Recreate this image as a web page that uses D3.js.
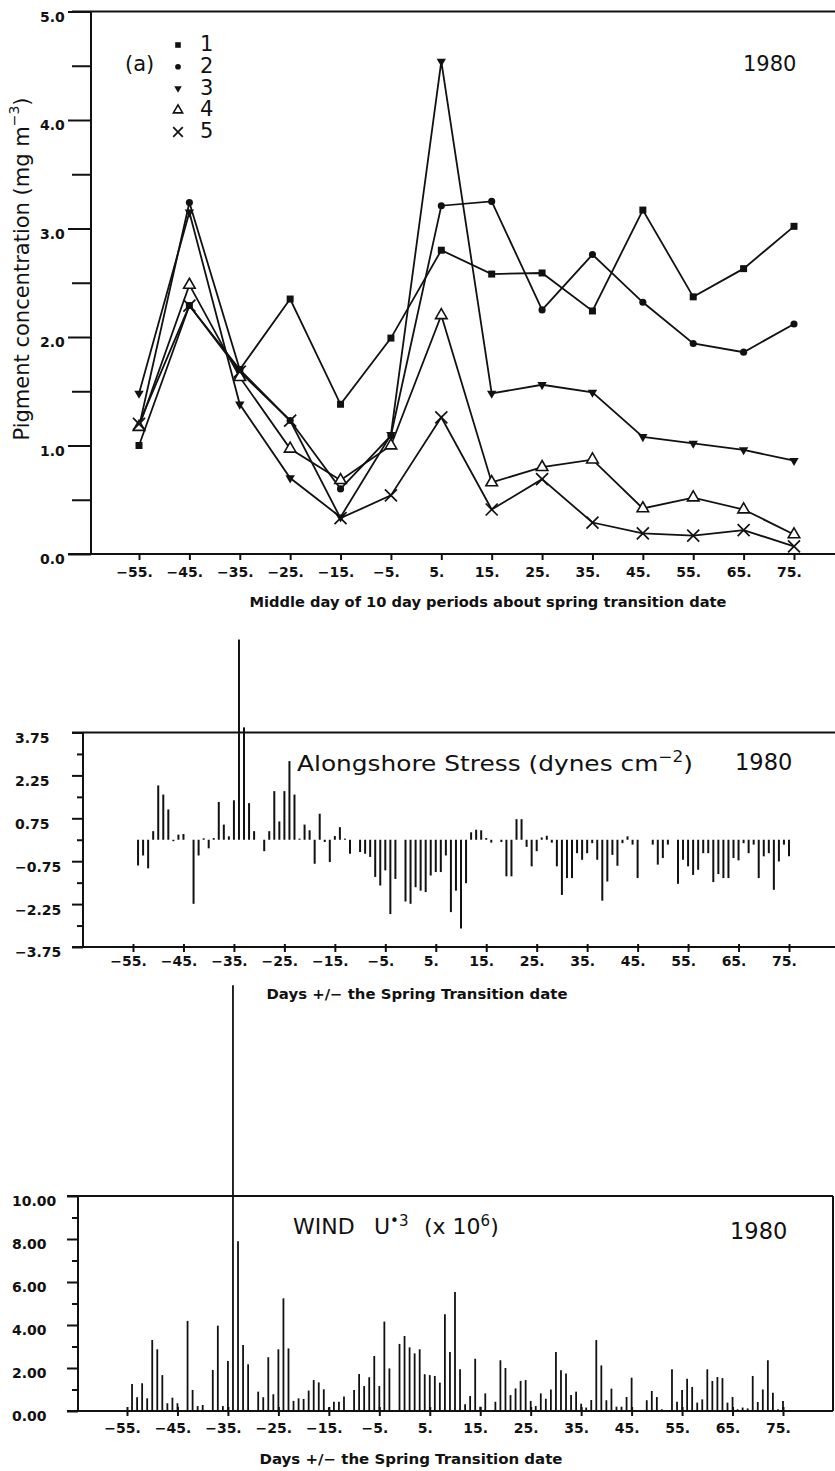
<!DOCTYPE html>
<html>
<head>
<meta charset="utf-8">
<script src="https://cdn.jsdelivr.net/npm/d3@7"></script>
<style>
  body { margin: 0; background: #fff; }
  svg { display: block; }
  text { fill: #111; }
</style>
</head>
<body>
<svg id="fig" width="835" height="1471"></svg>
<script>
// ---------- panel (a): pigment concentration, 10-day period means ----------
const periodDays = [-55, -45, -35, -25, -15, -5, 5, 15, 25, 35, 45, 55, 65, 75];
const station1 = [1.00, 2.29, 1.70, 2.35, 1.38, 1.99, 2.80, 2.58, 2.59, 2.24, 3.17, 2.37, 2.63, 3.02];
const station2 = [1.17, 3.24, 1.70, 1.23, 0.60, 1.09, 3.21, 3.25, 2.25, 2.76, 2.32, 1.94, 1.86, 2.12];
const station3 = [1.48, 3.15, 1.38, 0.70, 0.34, 1.10, 4.54, 1.48, 1.56, 1.49, 1.08, 1.02, 0.96, 0.86];
const station4 = [1.17, 2.48, 1.63, 0.97, 0.68, 1.00, 2.20, 0.66, 0.80, 0.87, 0.42, 0.52, 0.41, 0.18];
const station5 = [1.20, 2.29, 1.68, 1.23, 0.33, 0.54, 1.26, 0.41, 0.69, 0.29, 0.19, 0.17, 0.22, 0.07];
const stationNames = ["1", "2", "3", "4", "5"];
const pigmentTicks = [0, 1, 2, 3, 4, 5];
const pigmentMinor = [0.5, 1.5, 2.5, 3.5, 4.5];

// ---------- daily series, days -54 .. 75 ----------
const dailyDays = d3.range(-54, 76);
const stress = [
  -0.90, -0.55, -1.00, 0.30, 1.90, 1.58, 1.06, -0.05, 0.18, 0.20,
  0, -2.24, -0.55, 0.05, -0.30, 0.06, 1.32, 0.53, 0.12, 1.38,
  7.00, 3.93, 1.28, 0.30, 0, -0.40, 0.30, 1.70, 0.64, 1.70,
  2.75, 1.58, 0.04, 0.53, 0.33, -0.84, 0.91, -0.08, -0.78, 0.13,
  0.44, 0.04, -0.49, 0, -0.43, -0.49, -0.60, -1.30, -1.60, -1.07,
  -2.60, -1.37, 0, -2.16, -2.24, -1.66, -1.78, -1.83, -1.25, -1.13,
  -1.13, -0.55, -2.53, -1.78, -3.10, -1.52, 0.26, 0.35, 0.33, 0.06,
  -0.10, 0, -0.08, -1.28, -1.28, 0.72, 0.72, -0.25, -0.93, -0.40,
  0.08, 0.14, -0.10, -0.93, -1.93, -1.34, -1.34, -0.47, -0.70, -0.47,
  -0.12, -0.70, -2.13, -1.46, -0.53, -0.91, -0.12, 0.12, -0.17, -1.34,
  0, 0, -0.17, -0.87, -0.64, -0.17, 0, -1.54, -0.70, -0.93,
  -1.23, -1.05, -0.47, -0.47, -1.48, -1.20, -1.34, -1.34, -0.64, -0.72,
  -0.12, -0.47, -0.17, -1.34, -0.58, -0.47, -1.75, -0.76, -0.17, -0.58
];
const windCubed = [
  1.26, 0.64, 1.29, 0.59, 3.30, 2.87, 1.67, 0.36, 0.62, 0.36,
  0, 4.19, 0.98, 0.23, 0.28, 0, 1.91, 3.97, 0.23, 2.33,
  19.8, 7.90, 3.07, 2.17, 0, 0.90, 0.64, 2.50, 0.78, 2.87,
  5.24, 2.91, 0.47, 0.59, 0.56, 0.95, 1.44, 1.33, 1.01, 0.17,
  0.43, 0.43, 0.67, 0, 0.98, 1.72, 1.16, 1.57, 2.56, 1.16,
  4.16, 1.98, 0, 3.12, 3.49, 2.96, 2.68, 2.87, 1.71, 1.67,
  1.63, 1.32, 4.50, 2.74, 5.53, 1.94, 0.31, 0.70, 2.43, 0.20,
  0.82, 0, 0.43, 2.36, 2.00, 0.74, 1.05, 1.40, 1.44, 0.47,
  0.23, 0.82, 0.57, 1.00, 2.74, 1.89, 1.75, 0.74, 0.90, 0.34,
  0.16, 0.51, 3.30, 2.12, 0.50, 1.04, 0.20, 0.20, 0.65, 1.55,
  0, 0, 0.50, 0.93, 0.65, 0.08, 0, 1.94, 0.43, 0.98,
  1.50, 1.12, 0.39, 0.54, 1.94, 1.40, 1.58, 1.53, 0.39, 0.65,
  0.08, 0.16, 0.12, 1.63, 0.42, 1.00, 2.36, 0.85, 0.08, 0.47
];
const dayTicks = [-55, -45, -35, -25, -15, -5, 5, 15, 25, 35, 45, 55, 65, 75];
const stressTicks = [-3.75, -3.0, -2.25, -1.5, -0.75, 0, 0.75, 1.5, 2.25, 3.0, 3.75];
const stressLabelled = [-3.75, -2.25, -0.75, 0.75, 2.25, 3.75];
const windTicks = [0, 1, 2, 3, 4, 5, 6, 7, 8, 9, 10];
const windLabelled = [0, 2, 4, 6, 8, 10];

const INK = "#111";
const TICK_FONT = "'DejaVu Sans', sans-serif";
const svg = d3.select("#fig");

const dayLabel = d => (d < 0 ? "\u2212" : "") + Math.abs(d) + ".";
const signedFixed = n => v => (v < 0 ? "\u2212" : "") + Math.abs(v).toFixed(n);

function hline(x1, x2, y, w = 2) {
  svg.append("line").attr("x1", x1).attr("x2", x2).attr("y1", y).attr("y2", y)
    .attr("stroke", INK).attr("stroke-width", w);
}
function vline(x, y1, y2, w = 2) {
  svg.append("line").attr("x1", x).attr("x2", x).attr("y1", y1).attr("y2", y2)
    .attr("stroke", INK).attr("stroke-width", w);
}

function styleAxis(g) {
  g.select(".domain").remove();
  g.attr("font-family", TICK_FONT).attr("font-size", 14).attr("font-weight", "bold");
  g.selectAll("line").attr("stroke", INK).attr("stroke-width", 2);
  g.selectAll("text").attr("fill", INK);
}

function yAxis(x0, scale, all, labelled, majorLen, minorLen, labelLeft, fmt) {
  const minor = all.filter(v => !labelled.includes(v));
  const gMin = svg.append("g").attr("transform", `translate(${x0},0)`)
    .call(d3.axisLeft(scale).tickValues(minor).tickSize(minorLen).tickFormat(""));
  styleAxis(gMin);
  const gMaj = svg.append("g").attr("transform", `translate(${x0},0)`)
    .call(d3.axisLeft(scale).tickValues(labelled).tickSize(majorLen).tickFormat(fmt));
  styleAxis(gMaj);
  gMaj.selectAll("text").attr("text-anchor", "start")
    .attr("x", labelLeft - x0).attr("y", 5).attr("dy", "0.35em");
}

function xAxis(y0, scale, labelY, tickUp, tickDown) {
  const g = svg.append("g").attr("transform", `translate(0,${y0})`)
    .call(d3.axisBottom(scale).tickValues(dayTicks).tickSize(tickDown).tickFormat(dayLabel));
  styleAxis(g);
  g.selectAll(".tick line").attr("y1", -tickUp).attr("y2", tickDown);
  g.selectAll("text").attr("y", labelY).attr("dy", "0.35em").attr("x", -5);
}

function title(x, y, str, size, len, weight = "bold") {
  svg.append("text").attr("x", x).attr("y", y).attr("text-anchor", "middle")
    .attr("dominant-baseline", "middle")
    .attr("font-family", TICK_FONT).attr("font-weight", weight).attr("font-size", size)
    .attr("textLength", len).attr("lengthAdjust", "spacingAndGlyphs")
    .text(str);
}

// ================= panel (a) =================
const xP = d3.scaleLinear().domain([-55, 75]).range([139, 794]);
const yP = d3.scaleLinear().domain([0, 5]).range([554, 11.5]);

vline(91, yP(5), yP(0));
hline(72, 835, yP(5));
hline(68, 835, yP(0));
yAxis(91, yP, pigmentTicks.concat(pigmentMinor), pigmentTicks, 23, 19, 40, d3.format(".1f"));
xAxis(yP(0), xP, 18, 0, 6);
title(488, 603, "Middle day of 10 day periods about spring transition date", 13.5, 477);

// y title with superscript
const yt = svg.append("text")
  .attr("transform", "translate(23,269) rotate(-90)")
  .attr("text-anchor", "middle").attr("dominant-baseline", "middle")
  .attr("font-family", TICK_FONT).attr("font-size", 21);
yt.append("tspan").text("Pigment concentration (mg m");
yt.append("tspan").attr("dy", -8).attr("font-size", 14).text("\u22123");
yt.append("tspan").attr("dy", 8).text(")");

const series = [
  { vals: station1, kind: "square" },
  { vals: station2, kind: "circle" },
  { vals: station3, kind: "down" },
  { vals: station4, kind: "up" },
  { vals: station5, kind: "cross" }
];

function marker(g, kind, cx, cy, k) {
  const t = `translate(${cx},${cy})`;
  if (kind === "square") {
    g.append("path").attr("transform", t).attr("d", d3.symbol(d3.symbolSquare, 49 * k * k)())
      .attr("fill", INK);
  } else if (kind === "circle") {
    g.append("path").attr("transform", t).attr("d", d3.symbol(d3.symbolCircle, 40 * k * k)())
      .attr("fill", INK);
  } else if (kind === "down") {
    g.append("path").attr("transform", t + " rotate(180)")
      .attr("d", d3.symbol(d3.symbolTriangle, 38 * k * k)()).attr("fill", INK);
  } else if (kind === "up") {
    g.append("path").attr("transform", t).attr("d", d3.symbol(d3.symbolTriangle, 58 * k * k)())
      .attr("fill", "#fff").attr("stroke", INK).attr("stroke-width", 1.6);
  } else {
    const r = 6 * k;
    g.append("path").attr("transform", t)
      .attr("d", `M${-r},${-r}L${r},${r}M${-r},${r}L${r},${-r}`)
      .attr("stroke", INK).attr("stroke-width", 1.7).attr("fill", "none");
  }
}

const line = d3.line().x((d, i) => xP(periodDays[i])).y(d => yP(d));
const gLines = svg.append("g");
series.forEach(s => {
  gLines.append("path").datum(s.vals).attr("d", line)
    .attr("fill", "none").attr("stroke", INK).attr("stroke-width", 1.8);
});
const gMarks = svg.append("g");
series.forEach(s => s.vals.forEach((v, i) => marker(gMarks, s.kind, xP(periodDays[i]), yP(v), 1)));

// legend
const legY = d3.scalePoint().domain(stationNames).range([45, 132]);
const gLeg = svg.append("g");
series.forEach((s, i) => {
  marker(gLeg, s.kind, 178, legY(stationNames[i]), 0.8);
  gLeg.append("text").attr("x", 200).attr("y", legY(stationNames[i]))
    .attr("dominant-baseline", "middle").attr("font-family", TICK_FONT).attr("font-size", 21)
    .text(stationNames[i]);
});
svg.append("text").attr("x", 125).attr("y", 65).attr("dominant-baseline", "middle")
  .attr("font-family", TICK_FONT).attr("font-size", 21).text("(a)");
svg.append("text").attr("x", 743).attr("y", 65).attr("dominant-baseline", "middle")
  .attr("font-family", TICK_FONT).attr("font-size", 21).text("1980");

// ================= alongshore stress =================
const xS = d3.scaleLinear().domain([-55, 75]).range([133, 789]);
const yS = d3.scaleLinear().domain([-3.75, 3.75]).range([947, 732.5]);

vline(83, yS(3.75), yS(-3.75));
hline(72, 835, yS(3.75));
hline(72, 835, yS(-3.75));
yAxis(83, yS, stressTicks, stressLabelled, 11, 6, 15, signedFixed(2));
xAxis(yS(-3.75), xS, 14, 3, 5);
title(417, 995, "Days +/\u2212 the Spring Transition date", 14, 301);

svg.append("g").selectAll("line")
  .data(dailyDays.map((d, i) => ({ d, v: stress[i] })).filter(p => p.v !== 0))
  .join("line")
  .attr("x1", p => xS(p.d)).attr("x2", p => xS(p.d))
  .attr("y1", yS(0)).attr("y2", p => yS(p.v))
  .attr("stroke", INK).attr("stroke-width", 2);

const st = svg.append("text").attr("x", 297).attr("y", 765).attr("dominant-baseline", "middle")
  .attr("font-family", TICK_FONT).attr("font-size", 22)
  .attr("textLength", 396).attr("lengthAdjust", "spacingAndGlyphs");
st.append("tspan").text("Alongshore Stress (dynes cm");
st.append("tspan").attr("dy", -8).attr("font-size", 15).text("\u22122");
st.append("tspan").attr("dy", 8).text(")");
svg.append("text").attr("x", 735).attr("y", 763).attr("dominant-baseline", "middle")
  .attr("font-family", TICK_FONT).attr("font-size", 22.5).text("1980");

// ================= wind U*3 =================
const xW = d3.scaleLinear().domain([-55, 75]).range([127, 783]);
const yW = d3.scaleLinear().domain([0, 10]).range([1411, 1196]);

vline(78, yW(10), yW(0));
hline(67, 833, yW(10));
hline(67, 833, yW(0));
vline(833, yW(10), yW(0));
yAxis(78, yW, windTicks, windLabelled, 11, 6, 12, d3.format(".2f"));
xAxis(yW(0), xW, 17, 4, 5);
title(411, 1460, "Days +/\u2212 the Spring Transition date", 14, 303);

svg.append("g").selectAll("line")
  .data(dailyDays.map((d, i) => ({ d, v: windCubed[i] })).filter(p => p.v !== 0))
  .join("line")
  .attr("x1", p => xW(p.d)).attr("x2", p => xW(p.d))
  .attr("y1", yW(0)).attr("y2", p => yW(p.v))
  .attr("stroke", INK).attr("stroke-width", 1.8);

const wt = svg.append("text").attr("y", 1228).attr("dominant-baseline", "middle")
  .attr("font-family", TICK_FONT).attr("font-size", 22);
wt.append("tspan").attr("x", 293).text("WIND");
wt.append("tspan").attr("x", 374).text("U");
wt.append("tspan").attr("dy", -7).attr("font-size", 15).text("\u20223");
wt.append("tspan").attr("x", 424).attr("dy", 7).text("(x 10");
wt.append("tspan").attr("dy", -7).attr("font-size", 15).text("6");
wt.append("tspan").attr("dy", 7).text(")");
svg.append("text").attr("x", 730).attr("y", 1232).attr("dominant-baseline", "middle")
  .attr("font-family", TICK_FONT).attr("font-size", 22.5).text("1980");
</script>
</body>
</html>
